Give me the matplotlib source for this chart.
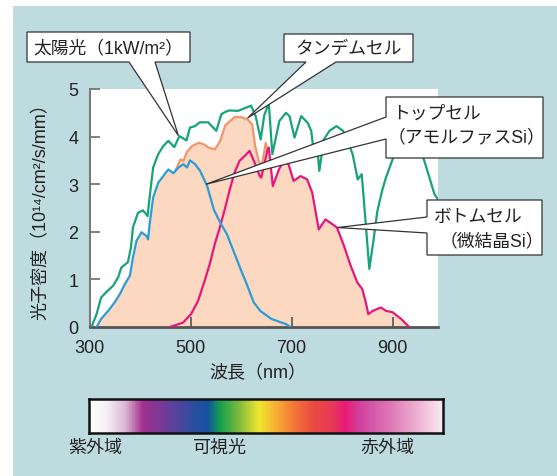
import numpy as np
import matplotlib
matplotlib.use('Agg')
import matplotlib.pyplot as plt
from matplotlib.patches import Rectangle, Polygon
from matplotlib.colors import LinearSegmentedColormap

plt.rcParams['font.family'] = ['Liberation Sans', 'DejaVu Sans', 'Noto Sans CJK JP']

# ---------------- data ----------------
solar_wl = [304, 314, 323, 333, 347, 357, 363, 376, 382, 386, 396, 406, 415, 419, 426, 436, 446, 456, 468, 478,
            492, 499, 509, 518, 535, 551, 561, 569, 577, 594, 620, 629, 639, 646, 655, 662, 676, 689, 696, 706,
            719, 732, 739, 745, 751, 755, 764, 775, 789, 802, 815, 821, 831, 839, 847, 854, 862, 870, 880, 887,
            900, 912, 930, 948, 962, 973, 983, 990]
solar_val = [0, 0.27, 0.62, 0.73, 0.87, 1.05, 1.25, 1.36, 1.67, 2.09, 2.40, 2.45, 2.33, 2.72, 3.35, 3.63, 3.80, 3.91, 3.78, 4.01,
             3.92, 4.19, 4.22, 4.30, 4.30, 4.12, 4.47, 4.52, 4.55, 4.54, 4.65, 4.43, 3.94, 4.45, 4.70, 3.63, 4.33, 4.50, 4.43, 3.98,
             4.43, 4.29, 4.12, 3.59, 3.77, 3.28, 3.94, 4.12, 4.22, 4.12, 3.80, 3.63, 3.10, 3.21, 2.16, 1.22, 1.80, 2.44, 2.89, 3.14,
             3.52, 3.85, 3.95, 3.85, 3.52, 3.14, 2.79, 2.68]

top_wl = [314, 323, 337, 350, 360, 370, 380, 386, 393, 403, 413, 416, 419, 426, 436, 446, 456, 466, 476, 486,
          493, 499, 509, 519, 533, 546, 559, 572, 585, 599, 612, 625, 638, 647, 660, 673, 689, 698]
top_val = [0, 0.17, 0.34, 0.52, 0.69, 0.90, 1.08, 1.46, 1.81, 1.99, 1.91, 1.84, 2.16, 2.72, 3.03, 3.17, 3.31, 3.23, 3.35, 3.42,
           3.35, 3.50, 3.42, 3.28, 2.96, 2.47, 2.19, 1.95, 1.60, 1.22, 0.88, 0.52, 0.34, 0.27, 0.17, 0.12, 0.06, 0]

bottom_wl = [459, 485, 501, 515, 528, 538, 548, 558, 567, 577, 587, 597, 607, 617, 627, 637, 640, 652, 655, 663,
             675, 685, 694, 704, 718, 731, 741, 754, 767, 777, 790, 804, 817, 830, 840, 847, 852, 861, 877, 887,
             900, 917, 933]
bottom_val = [0, 0.09, 0.27, 0.55, 0.97, 1.32, 1.74, 2.09, 2.44, 2.86, 3.24, 3.49, 3.59, 3.70, 3.45, 3.17, 3.14, 3.70, 3.77, 2.96,
              3.31, 3.49, 3.42, 3.07, 3.17, 3.10, 2.82, 2.05, 2.26, 2.19, 2.09, 1.70, 1.29, 0.94, 0.80, 0.52, 0.27, 0.34, 0.41, 0.34,
              0.31, 0.17, 0]

tandem_wl = [470, 480, 486, 493, 503, 516, 526, 536, 548, 558, 569, 582, 587, 599, 612, 622, 628, 635, 637, 642, 649, 652]
tandem_val = [3.28, 3.52, 3.49, 3.68, 3.80, 3.87, 3.84, 3.77, 3.73, 3.89, 4.24, 4.36, 4.41, 4.41, 4.37, 4.26, 3.80, 3.49,
              3.42, 3.45, 3.87, 3.72]

x_ticks = [300, 500, 700, 900]
y_ticks = [0, 1, 2, 3, 4, 5]

labels = {
    'solar': '太陽光（1kW/m²）',
    'tandem': 'タンデムセル',
    'top1': 'トップセル',
    'top2': '（アモルファスSi）',
    'bot1': 'ボトムセル',
    'bot2': '（微結晶Si）',
}
xlabel = '波長（nm）'
ylabel = '光子密度（10¹⁴/cm²/s/mm）'
band_labels = ['紫外域', '可視光', '赤外域']

spec_pos = [0.0, 0.05, 0.10, 0.15, 0.22, 0.29, 0.335, 0.37, 0.42, 0.48, 0.53, 0.58, 0.635, 0.69, 0.725, 0.77, 0.86, 0.95, 1.0]
spec_col = ['#ffffff', '#f6eef4', '#dcb8d6', '#a3308e', '#6a3e9a', '#2f4ea0', '#1552a2', '#14a04e', '#78b83e', '#f0e630',
            '#f8ae34', '#f27638', '#ea4a40', '#e8385a', '#e81a78', '#d044a0', '#e07cb8', '#f2c0da', '#fbeaf2']

# ---------------- style ----------------
BG = '#bedbe0'
GREEN = '#17a27a'
BLUE = '#2a9dd8'
PINK = '#e5177d'
ORANGE = '#f3956c'
FILL = '#fbd8bf'
EDGE = '#333333'
TXT = '#222222'

W, H = 557, 477
fig = plt.figure(figsize=(W / 100, H / 100), dpi=100)
fig.patch.set_facecolor('white')
fig.add_artist(Rectangle((13.5 / W, 0), 1 - 13.5 / W, 1 - 7 / H, transform=fig.transFigure,
                         facecolor=BG, edgecolor='none', zorder=-10))


def px_axes(l, t, r, b, **kw):
    return fig.add_axes([l / W, 1 - b / H, (r - l) / W, (b - t) / H], **kw)


ax = px_axes(89.5, 90, 438, 328)
ax.set_facecolor('white')

grid = np.linspace(300, 990, 3000)
env = np.maximum.reduce([
    np.interp(grid, top_wl, top_val, left=0, right=0),
    np.interp(grid, bottom_wl, bottom_val, left=0, right=0),
    np.interp(grid, tandem_wl, tandem_val, left=0, right=0),
])
ax.fill_between(grid, 0, env, color=FILL, lw=0, zorder=1)
ax.plot(tandem_wl, tandem_val, color=ORANGE, lw=1.6, zorder=2, solid_joinstyle='round')
ax.plot(bottom_wl, bottom_val, color=PINK, lw=1.6, zorder=3, solid_joinstyle='round')
ax.plot(top_wl, top_val, color=BLUE, lw=1.6, zorder=4, solid_joinstyle='round')
ax.plot(solar_wl, solar_val, color=GREEN, lw=1.6, zorder=5, solid_joinstyle='round')

ax.set_xlim(300, 990)
ax.set_ylim(0, 5)
ax.set_xticks(x_ticks)
ax.set_yticks(y_ticks)
for s in ['top', 'right']:
    ax.spines[s].set_visible(False)
ax.spines['left'].set_color('#7a7a7a')
ax.spines['left'].set_linewidth(1.5)
ax.spines['bottom'].set_color('#555555')
ax.spines['bottom'].set_linewidth(2)
ax.tick_params(axis='y', direction='in', length=7.5, width=1.2, color='#6a6a6a', pad=8, labelsize=13, labelcolor=TXT)
ax.tick_params(axis='x', direction='in', length=7.5, width=1.2, color='#555555', pad=8.5, labelsize=13, labelcolor=TXT)

fig.text(257.5 / W, 1 - 374 / H, xlabel, ha='center', va='center', fontsize=13, color=TXT)
fig.text(41 / W, 1 - 207 / H, ylabel, ha='center', va='center', rotation=90, fontsize=13, color=TXT)

# ---------------- callouts ----------------
ov = fig.add_axes([0, 0, 1, 1], zorder=10)
ov.set_xlim(0, W)
ov.set_ylim(H, 0)
ov.axis('off')
ov.patch.set_alpha(0)


def tip(x, y):
    d = ax.transData.transform((x, y))
    return (d[0], H - d[1])


def callout_bottom(l, t, r, b, w1, w2, tp):
    pts = [(l, t), (r, t), (r, b), (w2, b), tp, (w1, b), (l, b)]
    ov.add_patch(Polygon(pts, closed=True, facecolor='white', edgecolor=EDGE, lw=0.9, joinstyle='miter'))


def callout_left(l, t, r, b, h1, h2, tp):
    pts = [(l, t), (r, t), (r, b), (l, b), (l, h2), tp, (l, h1)]
    ov.add_patch(Polygon(pts, closed=True, facecolor='white', edgecolor=EDGE, lw=0.9, joinstyle='miter'))


BOX_FS = 12.8
callout_bottom(27, 33, 190, 63, 129, 155, tip(476, 4.02))
ov.text(108, 48.5, labels['solar'], ha='center', va='center', fontsize=BOX_FS, color=TXT)

callout_bottom(284, 35, 413, 63, 306, 336, tip(613, 4.39))
ov.text(348.5, 49.5, labels['tandem'], ha='center', va='center', fontsize=BOX_FS, color=TXT)

callout_left(386, 98, 543, 159, 118, 140, tip(531, 3.0))
ov.text(392, 114.5, labels['top1'], ha='left', va='center', fontsize=BOX_FS, color=TXT)
ov.text(388, 138, labels['top2'], ha='left', va='center', fontsize=BOX_FS, color=TXT)

callout_left(427, 201, 542, 256, 218, 234, tip(791, 2.09))
ov.text(434, 217, labels['bot1'], ha='left', va='center', fontsize=BOX_FS, color=TXT)
ov.text(440, 242, labels['bot2'], ha='left', va='center', fontsize=BOX_FS, color=TXT)

# ---------------- spectrum bar ----------------
cb = px_axes(89, 400, 443, 434)
cmap = LinearSegmentedColormap.from_list('spec', list(zip(spec_pos, spec_col)))
cb.imshow(np.linspace(0, 1, 600)[None, :], aspect='auto', cmap=cmap, extent=[0, 1, 0, 1])
cb.set_xticks([])
cb.set_yticks([])
for s in cb.spines.values():
    s.set_color('#111111')
    s.set_linewidth(1.8)

for txt, cx in zip(band_labels, [95, 220, 387.5]):
    fig.text(cx / W, 1 - 448 / H, txt, ha='center', va='center', fontsize=13, color=TXT)

fig.savefig('out.png', dpi=100)
